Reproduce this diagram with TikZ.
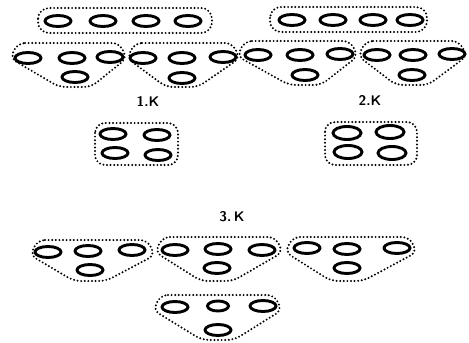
\documentclass[tikz,border=0pt]{standalone}
\usetikzlibrary{shapes.geometric}
\tikzset{
  dots/.style={draw=black, line width=2.2pt, dash pattern=on 0pt off 3.6pt, line cap=round},
  ov/.style={ellipse, draw=black, line width=2.9pt, minimum width=26pt, minimum height=11pt, inner sep=0pt},
  ovs/.style={ov, minimum width=21pt, minimum height=10pt},
  lbl/.style={font=\fontsize{14}{14}\selectfont\sffamily\bfseries, inner sep=0pt}
}
\newcommand\grp[5]{%
  \draw[dots, rounded corners=7pt] ({#1+8},#3) -- ({#2-8},#3) -- (#2,{#3+15}) -- ({#5+16},#4) -- ({#5-16},#4) -- (#1,{#3+15}) -- cycle;}
\begin{document}
\begin{tikzpicture}[x=1pt,y=-1pt]
\useasboundingbox (0,0) rectangle (469,343);
% top-left four
\draw[dots, rounded corners=11pt] (38,8) rectangle (212,33);
\node[ov] (a1) at (58,21) {};
\node[ov] (a2) at (103,21) {};
\node[ov] (a3) at (146,21) {};
\node[ov] (a4) at (188,21) {};
% top-right four
\draw[dots, rounded corners=11pt] (270,7) rectangle (427,32);
\node[ov] (b1) at (292,20) {};
\node[ov] (b2) at (333,20) {};
\node[ov] (b3) at (373,20) {};
\node[ov] (b4) at (410,20) {};
% row 2 left
\grp{10}{127}{43}{87}{75}
\node[ov] (c1) at (28,58) {};
\node[ov] (c2) at (72,58) {};
\node[ov] (c3) at (110,57) {};
\node[ov] (c4) at (75,77) {};
\grp{127}{240}{43}{87}{182}
\node[ov] (d1) at (143,58) {};
\node[ov] (d2) at (182,58) {};
\node[ov] (d3) at (223,57) {};
\node[ov] (d4) at (182,78) {};
% row 2 right
\grp{237}{358}{41}{85}{305}
\node[ov] (e1) at (258,55) {};
\node[ov] (e2) at (300,55) {};
\node[ov] (e3) at (340,54) {};
\node[ov] (e4) at (305,75) {};
\grp{358}{467}{41}{85}{412}
\node[ov] (f1) at (377,55) {};
\node[ov] (f2) at (413,55) {};
\node[ov] (f3) at (452,54) {};
\node[ov] (f4) at (412,75) {};
% labels
\node[lbl] (k1) at (148,101) {1.K};
\node[lbl] (k2) at (370,100) {2.K};
% squares
\draw[dots, rounded corners=10pt] (95,123) rectangle (178,165);
\node[ov] (g1) at (113,134) {};
\node[ov] (g2) at (157,135) {};
\node[ov] (g3) at (115,153) {};
\node[ov] (g4) at (158,155) {};
\draw[dots, rounded corners=10pt] (325,122) rectangle (417,165);
\node[ov, minimum width=28pt, minimum height=13pt] (h1) at (347,133) {};
\node[ov, minimum width=28pt, minimum height=13pt] (h2) at (390,132) {};
\node[ov, minimum width=28pt, minimum height=13pt] (h3) at (348,152) {};
\node[ov, minimum width=28pt, minimum height=13pt] (h4) at (392,153) {};
% 3.K
\node[lbl] (k3) at (232,217) {3.\,K};
\grp{30}{155}{240}{281}{90}
\node[ov] (i1) at (48,252) {};
\node[ov] (i2) at (88,251) {};
\node[ov] (i3) at (132,250) {};
\node[ov] (i4) at (90,270) {};
\grp{155}{283}{237}{281}{217}
\node[ov] (j1) at (175,250) {};
\node[ov] (j2) at (218,249) {};
\node[ov] (j3) at (262,250) {};
\node[ov] (j4) at (217,268) {};
\grp{285}{417}{237}{281}{347}
\node[ov] (l1) at (307,248) {};
\node[ov] (l2) at (347,249) {};
\node[ov] (l3) at (397,248) {};
\node[ov] (l4) at (347,268) {};
\grp{153}{282}{295}{340}{218}
\node[ov] (m1) at (175,307) {};
\node[ovs] (m2) at (218,306) {};
\node[ov] (m3) at (263,306) {};
\node[ov] (m4) at (218,330) {};
\end{tikzpicture}
\end{document}
